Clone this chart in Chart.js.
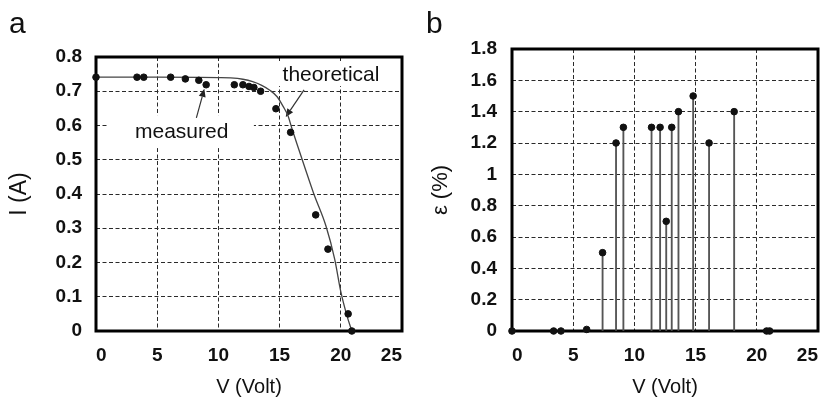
<!DOCTYPE html>
<html>
<head>
<meta charset="utf-8">
<script src="https://cdn.jsdelivr.net/npm/chart.js@4/dist/chart.umd.min.js"></script>
<style>
  body { margin: 0; background: #fff; }
  #page { position: relative; width: 831px; height: 399px; overflow: hidden; font-family: "Liberation Sans", Arial, sans-serif; color: #111; }
  canvas { position: absolute; top: 0; }
  #chart-a { left: 0; }
  #chart-b { left: 415px; }
  .panel { position: absolute; top: 8px; font-size: 30px; line-height: 30px; }
</style>
</head>
<body>
<div id="page">
  <canvas id="chart-a" width="415" height="399"></canvas>
  <canvas id="chart-b" width="416" height="399"></canvas>
  <div class="panel" style="left:9px">a</div>
  <div class="panel" style="left:426px">b</div>
</div>
<script>
// tick values / labels
const xTicks = [0, 5, 10, 15, 20, 25];
const xTickLabels = ["0", "5", "10", "15", "20", "25"];
const yTicksA = [0, 0.1, 0.2, 0.3, 0.4, 0.5, 0.6, 0.7, 0.8];
const yTickLabelsA = ["0", "0.1", "0.2", "0.3", "0.4", "0.5", "0.6", "0.7", "0.8"];
const yTicksB = [0, 0.2, 0.4, 0.6, 0.8, 1, 1.2, 1.4, 1.6, 1.8];
const yTickLabelsB = ["0", "0.2", "0.4", "0.6", "0.8", "1", "1.2", "1.4", "1.6", "1.8"];

// panel a - measured points
const measV = [0, 3.35, 3.9, 6.1, 7.3, 8.4, 9.0, 11.3, 12.0, 12.5, 12.9, 13.45, 14.7, 15.9, 17.95, 18.95, 20.6, 20.9];
const measI = [0.741, 0.741, 0.741, 0.741, 0.736, 0.732, 0.719, 0.719, 0.719, 0.714, 0.711, 0.70, 0.649, 0.58, 0.339, 0.239, 0.05, 0.0];

// panel a - theoretical curve
const theoV = [0, 5, 10, 11, 12, 12.8, 13.5, 14.2, 14.8, 15.3, 15.7, 16.0, 16.4, 17.0, 17.8, 18.8, 19.5, 20.0, 20.5, 20.9];
const theoI = [0.741, 0.741, 0.740, 0.739, 0.735, 0.728, 0.718, 0.703, 0.684, 0.655, 0.627, 0.592, 0.548, 0.484, 0.40, 0.305, 0.21, 0.115, 0.045, 0.0];

// panel b - error
const errV = [0, 3.4, 4.0, 6.1, 7.4, 8.5, 9.1, 11.4, 12.1, 12.6, 13.05, 13.6, 14.8, 16.1, 18.15, 20.8, 21.05];
const errE = [0, 0, 0, 0.01, 0.5, 1.2, 1.3, 1.3, 1.3, 0.7, 1.3, 1.4, 1.5, 1.2, 1.4, 0, 0];

const toXY = (xs, ys) => xs.map((x, i) => ({ x: x, y: ys[i] }));

Chart.defaults.font.family = '"Liberation Sans", Arial, sans-serif';
Chart.defaults.color = "#111";

const gridOpts = { color: "#2a2a2a", lineWidth: 1, drawTicks: false, offset: false };
const borderOpts = { display: false, dash: [4, 2.5] };
const tickFont = { size: 19, weight: "bold" };

function makeScales(o) {
  return {
    x: {
      type: "linear", min: 0, max: 25, offset: false,
      afterBuildTicks: s => { s.ticks = xTicks.map(v => ({ value: v })); },
      afterFit: s => { s.height = 68; },
      ticks: { callback: (v, i) => xTickLabels[i], font: tickFont, padding: 13, align: "inner", maxRotation: 0, autoSkip: false },
      grid: gridOpts,
      border: borderOpts,
      title: { display: true, text: "V (Volt)", font: { size: 20 }, padding: 0 }
    },
    y: {
      type: "linear", min: 0, max: o.yMax,
      afterBuildTicks: s => { s.ticks = o.yTicks.map(v => ({ value: v })); },
      afterFit: s => { s.width = o.yWidth; },
      ticks: { callback: (v, i) => o.yLabels[i], font: tickFont, padding: o.tickPad, autoSkip: false },
      grid: gridOpts,
      border: borderOpts,
      title: { display: true, text: o.title, font: { size: o.titleSize }, padding: { top: o.titlePad, bottom: 0 } }
    }
  };
}

// heavy frame round the plot area
const frame = {
  id: "frame",
  beforeDatasetsDraw(chart) {
    const { ctx, chartArea: a } = chart;
    ctx.save();
    ctx.strokeStyle = "#000";
    ctx.lineWidth = 3;
    ctx.strokeRect(a.left, a.top, a.right - a.left, a.bottom - a.top);
    ctx.restore();
  }
};

// labels with arrows in panel a (positions in data units)
const notes = [
  { text: "theoretical", v: 19.2, i: 0.730, box: [14.9, 0.785, 23.7, 0.715], from: [17.0, 0.704], to: [15.5, 0.625] },
  { text: "measured", v: 7.0, i: 0.5635, box: [0.95, 0.63, 12.9, 0.534], from: [8.2, 0.622], to: [8.85, 0.707] }
];

function arrow(ctx, x1, y1, x2, y2) {
  const ang = Math.atan2(y2 - y1, x2 - x1), L = 8, W = 3.5;
  const bx = x2 - L * Math.cos(ang), by = y2 - L * Math.sin(ang);
  ctx.beginPath();
  ctx.moveTo(x1, y1);
  ctx.lineTo(bx, by);
  ctx.stroke();
  ctx.beginPath();
  ctx.moveTo(x2, y2);
  ctx.lineTo(bx + W * Math.sin(ang), by - W * Math.cos(ang));
  ctx.lineTo(bx - W * Math.sin(ang), by + W * Math.cos(ang));
  ctx.closePath();
  ctx.fill();
}

const callouts = {
  id: "callouts",
  beforeDatasetsDraw(chart) {
    const { ctx } = chart;
    const xs = chart.scales.x, ys = chart.scales.y;
    ctx.save();
    notes.forEach(n => {
      const l = xs.getPixelForValue(n.box[0]), t = ys.getPixelForValue(n.box[1]);
      const r = xs.getPixelForValue(n.box[2]), b = ys.getPixelForValue(n.box[3]);
      ctx.fillStyle = "#fff";
      ctx.fillRect(l, t, r - l, b - t);
      ctx.fillStyle = "#111";
      ctx.font = '21px "Liberation Sans", Arial, sans-serif';
      ctx.textAlign = "center";
      ctx.textBaseline = "alphabetic";
      ctx.fillText(n.text, xs.getPixelForValue(n.v), ys.getPixelForValue(n.i));
      ctx.strokeStyle = "#333";
      ctx.fillStyle = "#222";
      ctx.lineWidth = 1.2;
      arrow(ctx, xs.getPixelForValue(n.from[0]), ys.getPixelForValue(n.from[1]),
                 xs.getPixelForValue(n.to[0]), ys.getPixelForValue(n.to[1]));
    });
    ctx.restore();
  }
};

new Chart(document.getElementById("chart-a"), {
  type: "scatter",
  data: {
    datasets: [
      { type: "line", label: "theoretical", data: toXY(theoV, theoI), borderColor: "#444", borderWidth: 1.3,
        pointRadius: 0, cubicInterpolationMode: "monotone", fill: false, order: 2 },
      { type: "scatter", label: "measured", data: toXY(measV, measI), backgroundColor: "#111", borderColor: "#111",
        pointRadius: 3.3, clip: false, order: 1 }
    ]
  },
  options: {
    responsive: false,
    animation: false,
    layout: { padding: { top: 57, right: 8, left: 0, bottom: 0 } },
    plugins: { legend: { display: false }, tooltip: { enabled: false } },
    scales: makeScales({ yMax: 0.8, yTicks: yTicksA, yLabels: yTickLabelsA, yWidth: 96, tickPad: 14,
                         title: "I (A)", titleSize: 23, titlePad: 6 })
  },
  plugins: [frame, callouts]
});

new Chart(document.getElementById("chart-b"), {
  type: "scatter",
  data: {
    datasets: [
      { type: "scatter", label: "ε", data: toXY(errV, errE), backgroundColor: "#111", borderColor: "#111",
        pointRadius: 3.3, clip: false, order: 1 },
      { type: "bar", label: "stem", data: toXY(errV, errE), backgroundColor: "#555", barThickness: 1.2, order: 2 }
    ]
  },
  options: {
    responsive: false,
    animation: false,
    layout: { padding: { top: 49, right: 4, left: 0, bottom: 0 } },
    plugins: { legend: { display: false }, tooltip: { enabled: false } },
    scales: makeScales({ yMax: 1.8, yTicks: yTicksB, yLabels: yTickLabelsB, yWidth: 97, tickPad: 15,
                         title: "ε (%)", titleSize: 22, titlePad: 13 })
  },
  plugins: [frame]
});
</script>
</body>
</html>
